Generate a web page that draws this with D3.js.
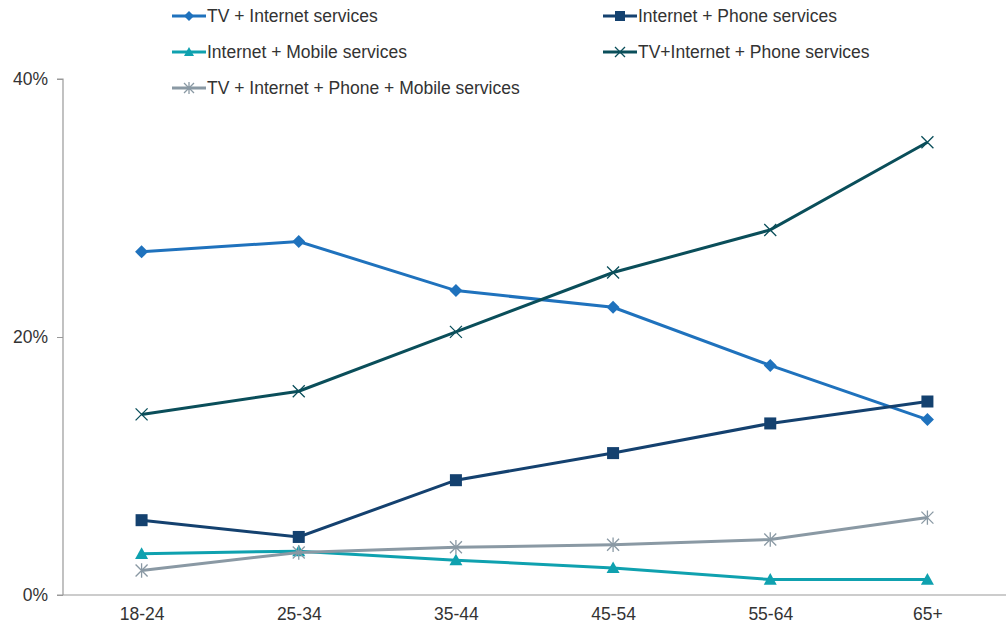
<!DOCTYPE html>
<html>
<head>
<meta charset="utf-8">
<script src="https://d3js.org/d3.v7.min.js"></script>
<style>
  body { margin: 0; background: #fff; }
  text { font-family: "Liberation Sans", Arial, sans-serif; }
</style>
</head>
<body>
<div id="chart"></div>
<script>
// Datos
var ageGroups = ["18-24", "25-34", "35-44", "45-54", "55-64", "65+"];
var tvInternet = [26.6, 27.4, 23.6, 22.3, 17.8, 13.6];
var internetPhone = [5.8, 4.5, 8.9, 11.0, 13.3, 15.0];
var internetMobile = [3.2, 3.4, 2.7, 2.1, 1.2, 1.2];
var tvInternetPhone = [14.0, 15.8, 20.4, 25.0, 28.3, 35.1];
var tvInternetPhoneMobile = [1.9, 3.3, 3.7, 3.9, 4.3, 6.0];
var yTicks = [0, 20, 40];

var series = [
  {name: "TV + Internet services", values: tvInternet, color: "#1f72bd", marker: "diamond", col: 0, row: 0},
  {name: "Internet + Phone services", values: internetPhone, color: "#14416f", marker: "square", col: 1, row: 0},
  {name: "Internet + Mobile services", values: internetMobile, color: "#0fa1af", marker: "triangle", col: 0, row: 1},
  {name: "TV+Internet + Phone services", values: tvInternetPhone, color: "#0a4e5a", marker: "cross", col: 1, row: 1},
  {name: "TV + Internet + Phone + Mobile services", values: tvInternetPhoneMobile, color: "#8a99a4", marker: "star", col: 0, row: 2}
];

// Lienzo
var width = 1006, height = 625;
var svg = d3.select("#chart").append("svg")
            .attr("width", width)
            .attr("height", height);

var plotLeft = 63, plotRight = 1006, plotTop = 79, plotBottom = 595;
var fontSize = "17.5px";

var x = d3.scalePoint().domain(ageGroups).range([plotLeft, plotRight]).padding(0.5);
var y = d3.scaleLinear().domain([0, 40]).range([plotBottom, plotTop]);

// Eje Y
var yAxis = svg.append("g")
               .attr("transform", "translate(" + plotLeft + ",0)")
               .call(d3.axisLeft(y).tickValues(yTicks).tickFormat(d => d + "%").tickSize(6).tickPadding(9));
yAxis.select(".domain").attr("stroke", "#999").attr("stroke-width", 1.2)
     .attr("d", "M-6," + plotTop + "H0V" + plotBottom);
yAxis.selectAll(".tick line").attr("stroke", "#999");
yAxis.selectAll(".tick text").attr("fill", "#333").style("font-size", fontSize)
     .style("font-family", "Liberation Sans, Arial, sans-serif");

// Eje X
var xAxis = svg.append("g")
               .attr("transform", "translate(0," + plotBottom + ")")
               .call(d3.axisBottom(x).tickSize(0).tickPadding(13));
xAxis.select(".domain").attr("stroke", "#999").attr("stroke-width", 1.2)
     .attr("d", "M" + (plotLeft - 6) + ",0H" + plotRight);
xAxis.selectAll(".tick text").attr("fill", "#333").style("font-size", fontSize)
     .style("font-family", "Liberation Sans, Arial, sans-serif");

// Marcadores
function drawMarker(g, type, color, cx, cy, s) {
  if (type === "diamond") {
    g.append("path").attr("d", `M${cx},${cy - s}L${cx + s},${cy}L${cx},${cy + s}L${cx - s},${cy}Z`).attr("fill", color);
  } else if (type === "square") {
    g.append("rect").attr("x", cx - s).attr("y", cy - s).attr("width", 2 * s).attr("height", 2 * s).attr("fill", color);
  } else if (type === "triangle") {
    g.append("path").attr("d", `M${cx},${cy - s}L${cx + s},${cy + s * 0.8}L${cx - s},${cy + s * 0.8}Z`).attr("fill", color);
  } else if (type === "cross") {
    g.append("path").attr("d", `M${cx - s},${cy - s}L${cx + s},${cy + s}M${cx - s},${cy + s}L${cx + s},${cy - s}`)
     .attr("stroke", color).attr("stroke-width", 1.3).attr("fill", "none");
  } else if (type === "star") {
    g.append("path").attr("d", `M${cx - s},${cy - s}L${cx + s},${cy + s}M${cx - s},${cy + s}L${cx + s},${cy - s}M${cx},${cy - s * 1.2}L${cx},${cy + s * 1.2}`)
     .attr("stroke", color).attr("stroke-width", 1.3).attr("fill", "none");
  }
}

var line = d3.line().x((d, i) => x(ageGroups[i])).y(d => y(d));

// Lineas
series.forEach(function (s) {
  var g = svg.append("g");
  g.append("path")
   .datum(s.values)
   .attr("d", line)
   .attr("fill", "none")
   .attr("stroke", s.color)
   .attr("stroke-width", 3);
  s.values.forEach(function (v, i) {
    var sz = s.marker === "square" ? 6 : (s.marker === "cross" || s.marker === "star") ? 6 : 6.5;
    drawMarker(g, s.marker, s.color, x(ageGroups[i]), y(v), sz);
  });
});

// Leyenda
var legendX = [172, 603];
var legendY = [16, 52, 88];
series.forEach(function (s) {
  var lx = legendX[s.col], ly = legendY[s.row];
  var g = svg.append("g");
  g.append("line").attr("x1", lx).attr("x2", lx + 34).attr("y1", ly).attr("y2", ly)
   .attr("stroke", s.color).attr("stroke-width", 3);
  drawMarker(g, s.marker, s.color, lx + 17, ly, 5);
  g.append("text").attr("x", lx + 35).attr("y", ly).attr("dy", "0.35em")
   .attr("fill", "#333").style("font-size", fontSize).text(s.name);
});
</script>
</body>
</html>
